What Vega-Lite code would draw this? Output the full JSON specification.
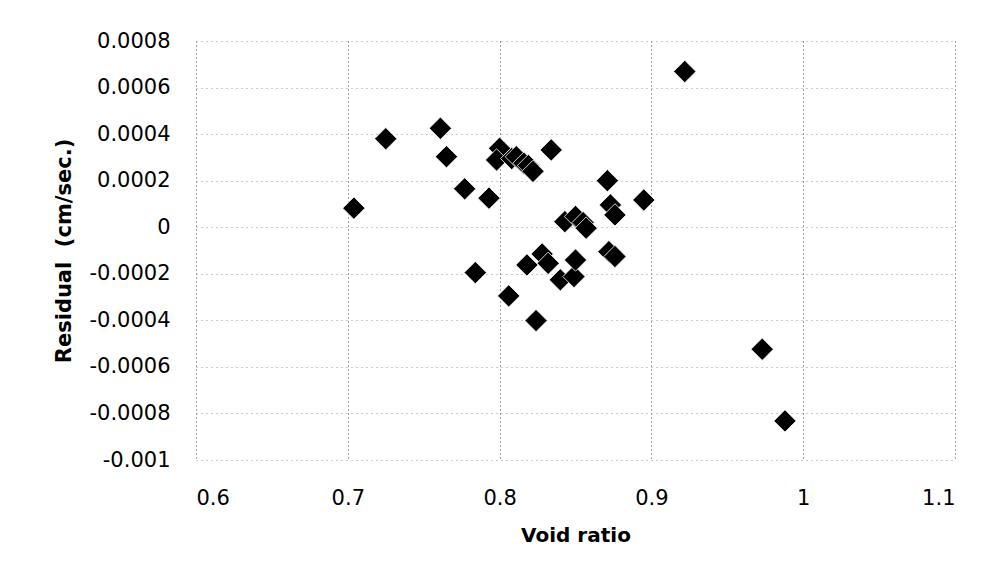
{
  "$schema": "https://vega.github.io/schema/vega-lite/v6.json",
  "autosize": {"type": "none"},
  "padding": {"left": 196, "top": 41, "right": 34, "bottom": 117},
  "width": 759,
  "height": 419,
  "background": "white",
  "config": {
    "view": {"stroke": null},
    "font": "DejaVu Sans",
    "axis": {
      "labelFont": "DejaVu Sans",
      "labelFontSize": 21,
      "labelColor": "#000",
      "titleFont": "DejaVu Sans",
      "titleFontWeight": "bold",
      "titleColor": "#000",
      "domain": false,
      "ticks": false,
      "grid": true
    }
  },
  "data": {
    "values": [
      {"void_ratio": 0.704, "residual": 0.000082},
      {"void_ratio": 0.725, "residual": 0.00038},
      {"void_ratio": 0.761, "residual": 0.000425},
      {"void_ratio": 0.765, "residual": 0.000303},
      {"void_ratio": 0.777, "residual": 0.000165},
      {"void_ratio": 0.793, "residual": 0.000125},
      {"void_ratio": 0.784, "residual": -0.000195},
      {"void_ratio": 0.800, "residual": 0.000339},
      {"void_ratio": 0.798, "residual": 0.000289},
      {"void_ratio": 0.808, "residual": 0.000295},
      {"void_ratio": 0.811, "residual": 0.000303},
      {"void_ratio": 0.816, "residual": 0.000275},
      {"void_ratio": 0.819, "residual": 0.000265},
      {"void_ratio": 0.822, "residual": 0.00024},
      {"void_ratio": 0.834, "residual": 0.000332},
      {"void_ratio": 0.806, "residual": -0.000295},
      {"void_ratio": 0.824, "residual": -0.000401},
      {"void_ratio": 0.818, "residual": -0.000162},
      {"void_ratio": 0.828, "residual": -0.000115},
      {"void_ratio": 0.832, "residual": -0.000155},
      {"void_ratio": 0.840, "residual": -0.000226},
      {"void_ratio": 0.849, "residual": -0.000212},
      {"void_ratio": 0.850, "residual": -0.000141},
      {"void_ratio": 0.843, "residual": 0.000024},
      {"void_ratio": 0.850, "residual": 0.000046},
      {"void_ratio": 0.855, "residual": 0.00002},
      {"void_ratio": 0.857, "residual": -0.000004},
      {"void_ratio": 0.871, "residual": 0.0002},
      {"void_ratio": 0.873, "residual": 0.000096},
      {"void_ratio": 0.876, "residual": 0.000053},
      {"void_ratio": 0.872, "residual": -0.000105},
      {"void_ratio": 0.876, "residual": -0.000126},
      {"void_ratio": 0.895, "residual": 0.000117},
      {"void_ratio": 0.922, "residual": 0.000669},
      {"void_ratio": 0.973, "residual": -0.000524},
      {"void_ratio": 0.988, "residual": -0.000832}
    ]
  },
  "mark": {"type": "point", "shape": "diamond", "filled": true, "color": "#000", "opacity": 1, "size": 500, "stroke": "#fff", "strokeWidth": 0.8},
  "encoding": {
    "x": {
      "field": "void_ratio",
      "type": "quantitative",
      "scale": {"domain": [0.6, 1.1], "nice": false, "zero": false},
      "axis": {
        "title": "Void ratio",
        "titleFontSize": 20,
        "titlePadding": 17,
        "values": [0.6, 0.7, 0.8, 0.9, 1, 1.1],
        "labelExpr": "'' + datum.value",
        "labelPadding": 27,
        "gridColor": "#444",
        "gridDash": [1, 3],
        "gridWidth": 1
      }
    },
    "y": {
      "field": "residual",
      "type": "quantitative",
      "scale": {"domain": [-0.001, 0.0008], "nice": false, "zero": false},
      "axis": {
        "title": "Residual\u00a0\u00a0(cm/sec.)",
        "titleFontSize": 21,
        "titlePadding": 14,
        "values": [-0.001, -0.0008, -0.0006, -0.0004, -0.0002, 0, 0.0002, 0.0004, 0.0006, 0.0008],
        "labelExpr": "'' + datum.value",
        "labelPadding": 26,
        "gridColor": "#999",
        "gridDash": [1, 4],
        "gridWidth": 1
      }
    }
  }
}
